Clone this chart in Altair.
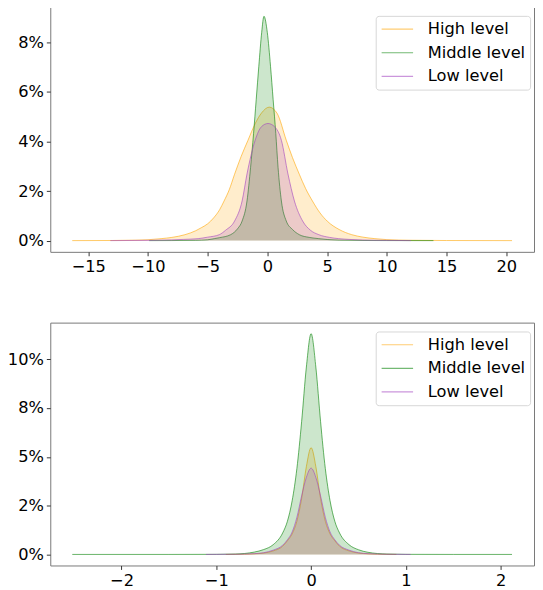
import altair as alt
import pandas as pd

LEVELS = ["High level", "Middle level", "Low level"]
COLORS = ["#FFA500", "#008000", "#A040C0"]

# ---- top panel (values in percent) ----
HIGH_X_TOP = [-16.34, -13.0, -11.0, -10.0, -8.9, -8.0, -6.9, -6.0, -5.5, -5.0, -4.5, -4.0, -3.63, -3.2, -2.75,
              -2.2, -1.63, -1.0, -0.5, 0.15, 0.8, 1.58, 2.1, 2.67, 3.2, 3.77, 4.4, 5.0, 6.0, 7.06,
              8.0, 9.0, 10.0, 12.0, 15.0, 20.48]
HIGH_Y_TOP = [0, 0.005, 0.02, 0.035, 0.08, 0.13, 0.24, 0.40, 0.53, 0.68, 0.92, 1.25, 1.6, 2.05, 2.68,
              3.4, 4.05, 4.75, 5.15, 5.39, 5.15, 4.05, 3.35, 2.68, 2.1, 1.6, 1.12, 0.79, 0.45, 0.24,
              0.14, 0.08, 0.04, 0.015, 0.004, 0]
MID_X_TOP = [-9.9, -8.0, -6.0, -5.0, -4.45, -4.0, -3.08, -2.5, -2.12, -1.71, -1.41, -1.16, -0.94, -0.72, -0.48,
             -0.29, -0.01, 0.26, 0.48, 0.70, 0.89, 1.17, 1.58, 2.1, 2.67, 3.5, 4.3, 5.0, 6.0, 8.0,
             10.0, 13.9]
MID_Y_TOP = [0, 0.003, 0.012, 0.035, 0.08, 0.12, 0.24, 0.48, 0.79, 1.6, 2.96, 4.33, 5.69, 7.04, 8.41,
             9.06, 8.41, 7.04, 5.69, 4.33, 2.96, 1.6, 0.79, 0.45, 0.24, 0.13, 0.08, 0.045, 0.02, 0.005,
             0.002, 0]
LOW_X_TOP = [-13.15, -10.0, -8.0, -7.0, -5.8, -5.0, -4.03, -3.5, -2.75, -2.12, -1.71, -1.03, -0.5, 0.05,
             0.6, 1.17, 1.72, 2.26, 2.95, 3.6, 4.3, 5.2, 5.96, 7.0, 9.0, 12.0]
LOW_Y_TOP = [0, 0.01, 0.03, 0.05, 0.08, 0.14, 0.24, 0.42, 0.79, 1.6, 2.69, 4.05, 4.6, 4.73,
             4.6, 4.05, 2.69, 1.6, 0.79, 0.42, 0.24, 0.13, 0.08, 0.045, 0.015, 0]

# ---- bottom panel (values in percent) ----
HIGH_X_BOT = [-0.9, -0.7, -0.6, -0.5, -0.4, -0.3, -0.25, -0.2, -0.15, -0.1, -0.05, 0.0, 0.05, 0.1, 0.15,
              0.2, 0.25, 0.3, 0.4, 0.5, 0.6, 0.7, 0.9]
HIGH_Y_BOT = [0, 0.01, 0.03, 0.07, 0.18, 0.42, 0.7, 1.05, 1.7, 2.86, 4.5, 5.47, 4.5, 2.86, 1.7,
              1.05, 0.7, 0.42, 0.18, 0.07, 0.03, 0.01, 0]
MID_X_BOT = [-2.52, -1.5, -1.0, -0.8, -0.6, -0.5, -0.4, -0.3, -0.25, -0.2, -0.15, -0.1, -0.05, 0.0, 0.05,
             0.1, 0.15, 0.2, 0.25, 0.3, 0.4, 0.5, 0.6, 0.8, 1.0, 1.5, 2.12]
MID_Y_BOT = [0, 0.0, 0.005, 0.02, 0.12, 0.25, 0.5, 1.1, 1.7, 2.75, 4.4, 6.8, 9.6, 11.31, 9.6,
             6.8, 4.4, 2.75, 1.7, 1.1, 0.5, 0.24, 0.11, 0.02, 0.005, 0, 0]
LOW_X_BOT = [-1.11, -0.8, -0.6, -0.5, -0.4, -0.3, -0.25, -0.2, -0.15, -0.1, -0.05, 0.0, 0.05, 0.1, 0.15,
             0.2, 0.25, 0.3, 0.4, 0.5, 0.6, 0.8, 1.05]
LOW_Y_BOT = [0, 0.01, 0.04, 0.09, 0.22, 0.47, 0.75, 1.15, 1.9, 3.0, 3.95, 4.42, 3.95, 3.0, 1.9,
             1.15, 0.75, 0.47, 0.22, 0.09, 0.04, 0.01, 0]

# ---- axes ----
X_TICKS_TOP = [-15, -10, -5, 0, 5, 10, 15, 20]
Y_TICKS_TOP = [0, 2, 4, 6, 8]
Y_LABELS_TOP = ["0%", "2%", "4%", "6%", "8%"]
X_TICKS_BOT = [-2, -1, 0, 1, 2]
Y_TICKS_BOT = [0, 2.5, 5, 7.5, 10]
Y_LABELS_BOT = ["0%", "2%", "5%", "8%", "10%"]

X_DOM_TOP = [-18.18, 22.32]
Y_DOM_TOP = [-0.453, 9.513]
X_DOM_BOT = [-2.752, 2.352]
Y_DOM_BOT = [-0.566, 11.876]

FONT = "DejaVu Sans"
FS = 16.5


def label_expr(vals, labels):
    parts = [f"datum.value == {v} ? '{l}'" for v, l in zip(vals, labels)]
    return " : ".join(parts) + " : ''"


def panel(series, xdom, xticks, ydom, yticks, ylabels, height, legend_y):
    frames = []
    for lvl, (xs, ys) in zip(LEVELS, series):
        frames.append(pd.DataFrame({"x": xs, "y": ys, "level": lvl}))
    df = pd.concat(frames, ignore_index=True)

    xenc = alt.X("x:Q", scale=alt.Scale(domain=xdom, nice=False, zero=False),
                 axis=alt.Axis(values=xticks, title=None, format="d",
                               labelExpr="replace(datum.label, '-', '\u2212')"))
    yenc = alt.Y("y:Q", scale=alt.Scale(domain=ydom, nice=False, zero=False),
                 axis=alt.Axis(values=yticks, title=None, labelExpr=label_expr(yticks, ylabels),
                               minExtent=42, maxExtent=42))
    layers = []
    for lvl, col in zip(LEVELS, COLORS):
        base = alt.Chart(df).transform_filter(alt.datum.level == lvl)
        area = base.mark_area(interpolate="monotone", fill=col, fillOpacity=0.2).encode(
            x=xenc, y=yenc, y2=alt.datum(0),
        )
        line = base.mark_line(interpolate="monotone", strokeWidth=1, strokeOpacity=0.6).encode(
            x=xenc, y=yenc,
            stroke=alt.Stroke("level:N", scale=alt.Scale(domain=LEVELS, range=COLORS),
                              legend=alt.Legend(title=None, orient="none", legendX=331,
                                                legendY=legend_y)),
        )
        layers += [area, line]
    return alt.layer(*layers).properties(width=492, height=height)


top = panel([(HIGH_X_TOP, HIGH_Y_TOP), (MID_X_TOP, MID_Y_TOP), (LOW_X_TOP, LOW_Y_TOP)],
            X_DOM_TOP, X_TICKS_TOP, Y_DOM_TOP, Y_TICKS_TOP, Y_LABELS_TOP, 251, 11)
bottom = panel([(HIGH_X_BOT, HIGH_Y_BOT), (MID_X_BOT, MID_Y_BOT), (LOW_X_BOT, LOW_Y_BOT)],
               X_DOM_BOT, X_TICKS_BOT, Y_DOM_BOT, Y_TICKS_BOT, Y_LABELS_BOT, 247, 9)

chart = (
    alt.vconcat(top, bottom, spacing=47)
    .resolve_scale(stroke="independent")
    .resolve_legend(stroke="independent")
    .properties(padding={"left": -2, "top": -9, "right": 0, "bottom": 0})
    .configure_view(stroke="#777777", strokeWidth=1)
    .configure_axis(domain=False, grid=False, tickColor="#333333", tickSize=4, tickWidth=1,
                    labelFont=FONT, labelFontSize=FS, labelColor="#000000", labelPadding=3)
    .configure_legend(padding=5, cornerRadius=3,
                      strokeColor="#d6d6d6", fillColor="#ffffff", symbolType="stroke",
                      symbolSize=1024, symbolStrokeWidth=1.2, symbolOpacity=0.55,
                      labelFont=FONT, labelFontSize=FS, labelColor="#000000", labelOffset=14,
                      clipHeight=17, rowPadding=7)
)

chart.save("out.html", embed_options={"renderer": "svg", "actions": False})
